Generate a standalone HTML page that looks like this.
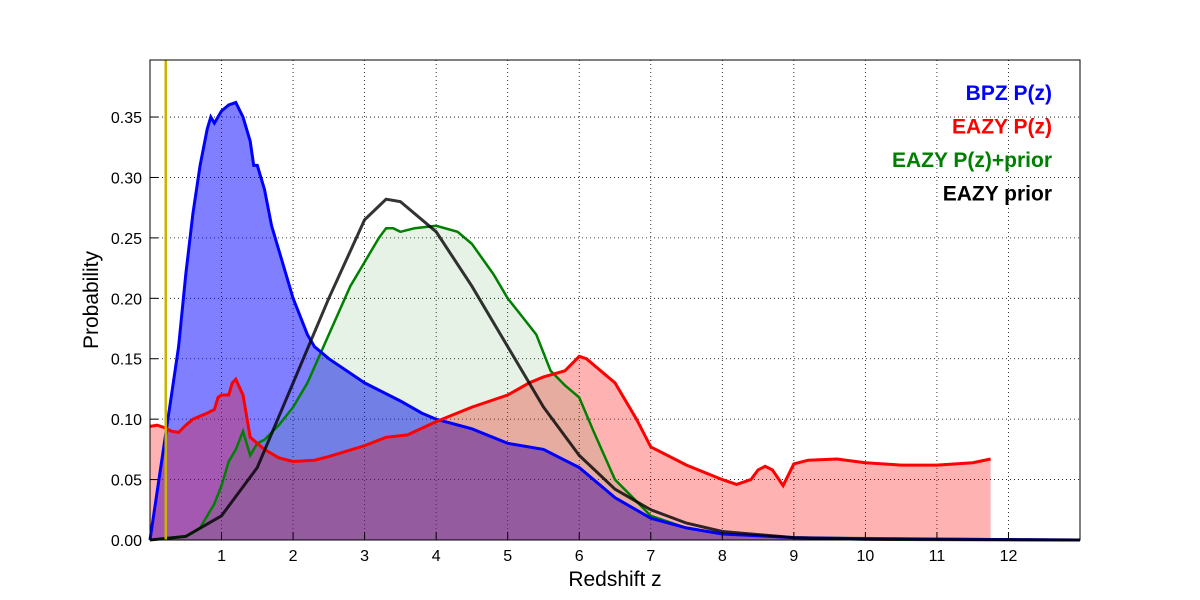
<!DOCTYPE html>
<html><head><meta charset="utf-8"><style>
html,body{margin:0;padding:0;background:#fff;}
svg{display:block;font-family:"Liberation Sans",sans-serif;}
</style></head><body>
<svg id="chart" width="1200" height="600"></svg>
<script>
const bpzZ=[0,0.2,0.3,0.4,0.5,0.6,0.7,0.8,0.85,0.9,0.95,1.0,1.1,1.2,1.3,1.4,1.45,1.5,1.6,1.7,1.8,2.0,2.2,2.3,2.5,3.0,3.5,3.8,4.0,4.5,5.0,5.5,6.0,6.5,7.0,7.5,8,9,10,13];
const bpzP=[0,0.08,0.12,0.16,0.22,0.27,0.31,0.34,0.35,0.345,0.35,0.355,0.36,0.362,0.35,0.33,0.31,0.31,0.29,0.26,0.24,0.2,0.17,0.16,0.15,0.13,0.115,0.105,0.1,0.092,0.08,0.075,0.06,0.035,0.018,0.01,0.005,0.002,0.001,0];
const eazyZ=[0,0.1,0.2,0.3,0.4,0.5,0.6,0.8,0.9,0.95,1.0,1.1,1.15,1.2,1.3,1.4,1.5,1.6,1.8,2.0,2.3,2.5,3.0,3.3,3.6,4.0,4.5,5.0,5.3,5.5,5.8,6.0,6.1,6.3,6.5,6.8,7.0,7.5,8.0,8.2,8.4,8.5,8.6,8.7,8.85,9.0,9.2,9.6,10.0,10.5,11,11.5,11.75];
const eazyP=[0.094,0.095,0.093,0.09,0.089,0.095,0.1,0.105,0.108,0.118,0.12,0.12,0.13,0.133,0.12,0.085,0.08,0.075,0.068,0.065,0.066,0.069,0.078,0.085,0.087,0.098,0.11,0.12,0.13,0.135,0.14,0.152,0.15,0.14,0.13,0.1,0.077,0.062,0.05,0.046,0.05,0.058,0.061,0.058,0.045,0.063,0.066,0.067,0.064,0.062,0.062,0.064,0.067];
const priorPZ=[0,0.5,0.7,0.9,1.0,1.1,1.2,1.3,1.4,1.5,1.6,1.8,2.0,2.2,2.5,2.8,3.0,3.2,3.3,3.4,3.5,3.7,4.0,4.3,4.5,4.8,5.0,5.2,5.4,5.6,5.8,6.0,6.2,6.5,7.0,7.5,8,9,13];
const priorPP=[0,0.003,0.01,0.03,0.045,0.065,0.075,0.09,0.07,0.08,0.083,0.095,0.11,0.13,0.17,0.21,0.23,0.25,0.258,0.258,0.255,0.258,0.26,0.255,0.245,0.22,0.2,0.185,0.17,0.14,0.128,0.118,0.09,0.05,0.02,0.01,0.005,0.002,0];
const priorZ=[0,0.5,1,1.5,2,2.5,3,3.3,3.5,4,4.5,5,5.5,6,6.5,7,7.5,8,9,10,13];
const priorP=[0,0.003,0.02,0.06,0.13,0.2,0.265,0.282,0.28,0.255,0.21,0.16,0.11,0.07,0.042,0.025,0.014,0.007,0.002,0.0005,0];
const xTicks=[1,2,3,4,5,6,7,8,9,10,11,12];
const yTicks=[0,0.05,0.1,0.15,0.2,0.25,0.3,0.35];
const zSpec=0.22;

const L=150,R=1080,T=60,B=540,XMAX=13,YMAX=0.3972;
const sx=z=>L+(R-L)*z/XMAX, sy=p=>B-(B-T)*p/YMAX;
const svg=document.getElementById('chart');const NS='http://www.w3.org/2000/svg';
function mk(tag,attrs,parent){const e=document.createElementNS(NS,tag);for(const k in attrs)e.setAttribute(k,attrs[k]);(parent||svg).appendChild(e);return e;}
const pts=(zs,ps)=>zs.map((z,i)=>sx(z).toFixed(1)+','+sy(ps[i]).toFixed(1)).join(' ');
const area=(zs,ps)=>sx(zs[0])+','+B+' '+pts(zs,ps)+' '+sx(zs[zs.length-1])+','+B;

// grid
xTicks.forEach(t=>{const g=mk('line',{x1:sx(t),x2:sx(t),y1:T,y2:B,stroke:'#000','stroke-dasharray':'1,3','stroke-width':0.8});

});
yTicks.forEach(t=>{const g=mk('line',{x1:L,x2:R,y1:sy(t),y2:sy(t),stroke:'#000','stroke-dasharray':'1,3','stroke-width':0.8});

});

// fills
let f;
f=mk('polygon',{points:area(bpzZ,bpzP),fill:'rgba(0,0,255,0.5)'});


f=mk('polygon',{points:area(eazyZ,eazyP),fill:'rgba(255,0,0,0.3)'});


f=mk('polygon',{points:area(priorPZ,priorPP),fill:'rgba(0,128,0,0.1)'});



// lines
let l;
l=mk('polyline',{points:pts(priorPZ,priorPP),fill:'none',stroke:'#008000','stroke-width':2.5});


l=mk('polyline',{points:pts(bpzZ,bpzP),fill:'none',stroke:'#0000ff','stroke-width':3});


l=mk('polyline',{points:pts(eazyZ,eazyP),fill:'none',stroke:'#ff0000','stroke-width':3});


l=mk('polyline',{points:pts(priorZ,priorP),fill:'none',stroke:'rgba(0,0,0,0.8)','stroke-width':3});


l=mk('line',{x1:sx(zSpec),x2:sx(zSpec),y1:T,y2:B,stroke:'#c8b400','stroke-width':2.5});



// frame
const fr=mk('rect',{x:L,y:T,width:R-L,height:B-T,fill:'none',stroke:'#000','stroke-width':1});



// ticks
xTicks.forEach(t=>{
const tk=mk('line',{x1:sx(t),x2:sx(t),y1:B,y2:B-8,stroke:'#000'});


const tx=mk('text',{x:sx(t),y:B+21,'text-anchor':'middle','font-size':16});tx.textContent=t;

});
yTicks.forEach(t=>{
const tk=mk('line',{x1:L,x2:L+8,y1:sy(t),y2:sy(t),stroke:'#000'});


const tx=mk('text',{x:L-8,y:sy(t)+6,'text-anchor':'end','font-size':16});tx.textContent=t.toFixed(2);

});

let at=mk('text',{x:615,y:586,'text-anchor':'middle','font-size':21});at.textContent='Redshift z';


at=mk('text',{x:98,y:300,'text-anchor':'middle','font-size':21,transform:'rotate(-90 98 300)'});at.textContent='Probability';



// legend
const legTxt=['BPZ P(z)','EAZY P(z)','EAZY P(z)+prior','EAZY prior'];
const legCol=['#0000ff','#ff0000','#008000','#000000'];
legTxt.forEach((s,i)=>{const t=mk('text',{x:1052,y:100+i*33.5,'text-anchor':'end','font-size':21,'font-weight':'bold',fill:legCol[i]});t.textContent=s;

});
</script>
</body></html>
